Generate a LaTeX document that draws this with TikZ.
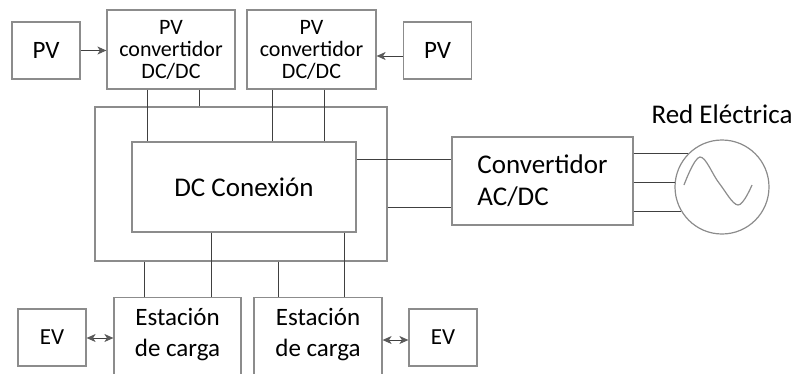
\documentclass[tikz,border=0pt]{standalone}
\usepackage{fontspec}
\setmainfont{Carlito}
\usetikzlibrary{arrows.meta,positioning}
\definecolor{boxgray}{HTML}{8C8C8C}
\definecolor{wiregray}{HTML}{404040}
\definecolor{tipgray}{HTML}{5A5A5A}

\begin{document}
\begin{tikzpicture}[x=1pt,y=-1pt]
\tikzstyle{block}=[draw=boxgray,line width=1.2pt,inner sep=0pt,text=black]
\tikzstyle{source}=[block,minimum width=68pt,minimum height=57pt,font=\fontsize{25}{30}\selectfont]
\tikzstyle{conv}=[block,minimum width=128pt,minimum height=79pt,align=center,font=\fontsize{22}{22}\selectfont]
\tikzstyle{station}=[block,minimum width=127pt,minimum height=100pt,anchor=north]
\tikzstyle{annot}=[align=center,font=\fontsize{25}{31}\selectfont]
\tikzstyle{wire}=[draw=wiregray,line width=1pt]
\tikzstyle{flow}=[wire,-{Stealth[length=9pt,width=8pt,inset=2.5pt,color=tipgray]}]
\tikzstyle{both}=[wire,{Stealth[length=9pt,width=8pt,inset=2.5pt,color=tipgray]}-{Stealth[length=9pt,width=8pt,inset=2.5pt,color=tipgray]}]

\useasboundingbox (0,0) rectangle (797,373);

% PV sources and their DC/DC converters
\node[source] (pvL) at (46,50.5) {PV};
\node[conv] (pvc1) at (171,49.5) {PV\\convertidor\\DC/DC};
\node[conv,minimum width=129pt] (pvc2) at (311.5,49.5) {PV\\convertidor\\DC/DC};
\node[source] (pvR) at (437.5,50.5) {PV};

% DC bus
\node[block,minimum width=292pt,minimum height=154pt] (bus) at (241,184) {};
\node[block,minimum width=224pt,minimum height=90pt,font=\fontsize{27}{32}\selectfont] (dc) at (244,187) {DC Conexi\'on};

% grid side
\node[block,minimum width=181pt,minimum height=88pt,align=left,font=\fontsize{27}{32}\selectfont] (ac) at (542.5,181) {Convertidor\\AC/DC};
\node[circle,draw=boxgray,line width=1.2pt,minimum size=94pt,inner sep=0pt,
  label={[font=\fontsize{27}{32}\selectfont,label distance=12pt]above:Red El\'ectrica}] (grid) at (722,187) {};
\draw[draw=boxgray,line width=1.2pt,shift={(grid.center)}]
  plot[smooth,tension=0.6] coordinates {(-38,-2) (-22,-30) (-3,-4) (16,18) (30,-2)};

% charging stations and EVs
\node[station,label={[annot,anchor=north,yshift=-8pt]north:Estaci\'on\\de carga}] (st1) at (177.5,297) {};
\node[station,minimum width=128pt,label={[annot,anchor=north,yshift=-8pt]north:Estaci\'on\\de carga}] (st2) at (318,297) {};
\node[source,font=\fontsize{23}{28}\selectfont] (evL) at (52,337.5) {EV};
\node[source,font=\fontsize{23}{28}\selectfont] (evR) at (443,337.5) {EV};

% PV power flow
\draw[flow] (pvL.east) -- (pvL.east -| pvc1.west);
\draw[flow] (pvR.west |- 0,56) -- (pvc2.east |- 0,56);

% converters down to the bus
\foreach \src/\dst/\x in {pvc1/dc/147,pvc1/bus/199,pvc2/dc/272,pvc2/dc/324}
  \draw[wire] (\src.south -| \x,0) -- (\dst.north -| \x,0);

% bus down to the stations
\foreach \src/\dst/\x in {bus/st1/144,dc/st1/211,bus/st2/278,dc/st2/344}
  \draw[wire] (\src.south -| \x,0) -- (\dst.north -| \x,0);

% bus to the AC/DC converter and the grid
\draw[wire] (dc.east |- 0,159) -- (ac.west |- 0,159);
\draw[wire] (bus.east |- 0,207) -- (ac.west |- 0,207);
\foreach \a in {135,175,211}
  \draw[wire] (grid.\a -| ac.east) -- (grid.\a);

% EV charging both ways
\draw[both] (evL.east |- 0,338) -- (st1.west |- 0,338);
\draw[both] (st2.east |- 0,340) -- (evR.west |- 0,340);
\end{tikzpicture}
\end{document}
